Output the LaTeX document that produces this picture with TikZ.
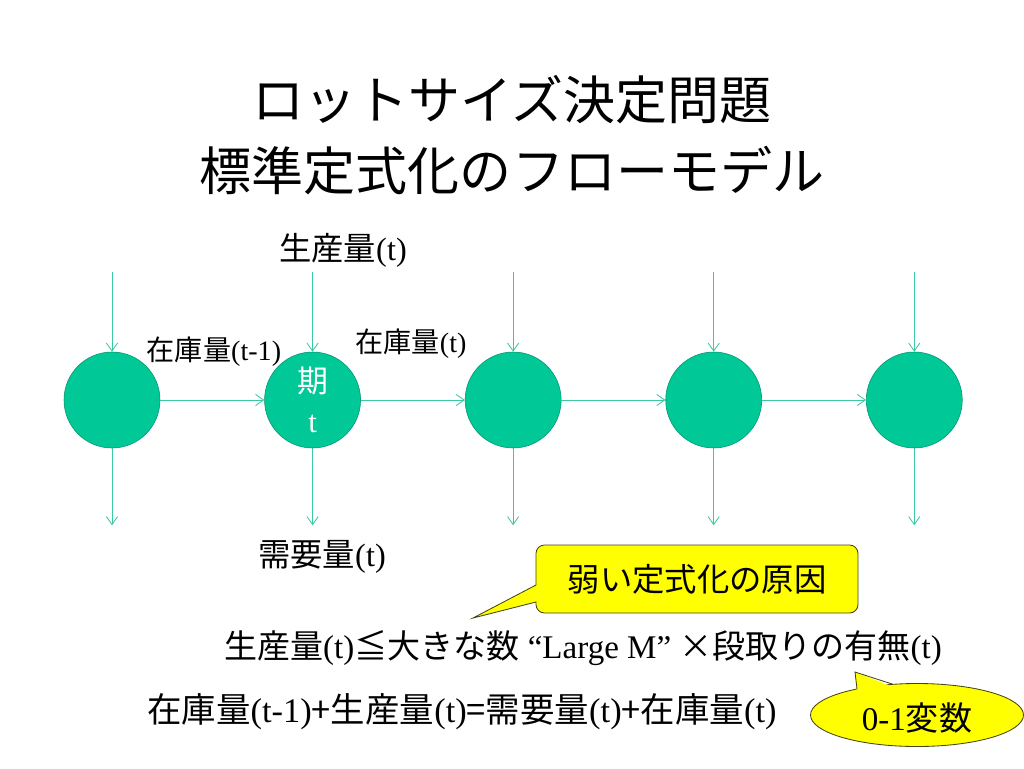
\documentclass[tikz,border=0pt]{standalone}
\usepackage{fontspec}
\setmainfont{Liberation Serif}
\newfontfamily\jp{Noto Sans CJK JP}
\usepackage{xcolor}
\usetikzlibrary{shapes.geometric, arrows.meta, positioning}
\definecolor{periodgreen}{RGB}{0,200,150}
\definecolor{periodedge}{RGB}{0,150,112}
\definecolor{flowgreen}{RGB}{60,200,160}
\definecolor{noteyellow}{RGB}{255,255,0}
\definecolor{noteedge}{RGB}{70,70,20}
\tikzstyle{period} = [circle, draw=periodedge, fill=periodgreen, minimum size=24mm, inner sep=0pt, text=white, align=center, font=\fontsize{22}{28}\selectfont]
\tikzstyle{flow} = [-{Straight Barb[length=2mm, width=2.8mm]}, draw=flowgreen, semithick]
\tikzstyle{qty} = [inner sep=0pt, font=\fontsize{20}{22}\selectfont]
\tikzstyle{qtybig} = [inner sep=0pt, font=\fontsize{23}{26}\selectfont]
\tikzstyle{formula} = [inner sep=0pt, font=\fontsize{23.5}{26}\selectfont]
\tikzstyle{note} = [draw=noteedge, fill=noteyellow, semithick]

\begin{document}
\begin{tikzpicture}[x=0.25mm, y=-0.25mm, node distance=26mm]
\useasboundingbox (0,0) rectangle (1024,768);

\node[align=center, inner sep=0pt, font=\jp\fontsize{37}{50}\selectfont] (title) at (512,135) {ロットサイズ決定問題\\標準定式化のフローモデル};

\node[period] (p1) at (112,400) {};
\node[period, right=of p1] (p2) {{\jp 期}\\t};
\node[period, right=of p2] (p3) {};
\node[period, right=of p3] (p4) {};
\node[period, right=of p4] (p5) {};

% production in, demand out
\foreach \i in {1,...,5} {
  \coordinate[above=20mm of p\i.north] (in\i);
  \coordinate[below=19.25mm of p\i.south] (out\i);
  \draw[flow] (in\i) -- (p\i);
  \draw[flow] (p\i) -- (out\i);
}
% stock carried to the next period
\foreach \i/\j in {1/2,2/3,3/4,4/5}
  \draw[flow] (p\i) -- (p\j);

\node[qtybig] (prod) at (343,250) {{\jp 生産量}(t)};
\node[qty] (stockprev) at (214,352) {{\jp 在庫量}(t-1)};
\node[qty] (stock) at (411,344) {{\jp 在庫量}(t)};
\node[qtybig] (demand) at (322,557) {{\jp 需要量}(t)};

\node[formula] (bigm) at (583,648) {{\jp 生産量}(t){\jp ≦大きな数} “Large M” {\jp ×段取りの有無}(t)};
\node[formula, font=\fontsize{24.5}{26}\selectfont] (balance) at (462,712) {{\jp 在庫量}(t-1){\jp +生産量}(t){\jp =需要量}(t){\jp +在庫量}(t)};

% callouts
\draw[note] (536,602) [rounded corners=6pt] -- (536,613) -- (858,613) -- (858,545) -- (536,545) [sharp corners] -- (536,585) -- (473,618) -- cycle;
\node[inner sep=0pt, font=\jp\fontsize{23}{26}\selectfont] (weak) at (697,579) {弱い定式化の原因};

\node[note, ellipse, minimum width=53.25mm, minimum height=15.75mm] (binary) at (917,715) {};
\fill[noteyellow] (857,692) -- (855,672) -- (893,687) -- cycle;
\draw[noteedge, semithick] (857,689) -- (855,672) -- (893,684.3);
\node[inner sep=0pt, font=\fontsize{23.5}{26}\selectfont] (binarytext) at (917,718) {0-1{\jp 変数}};

\end{tikzpicture}
\end{document}
